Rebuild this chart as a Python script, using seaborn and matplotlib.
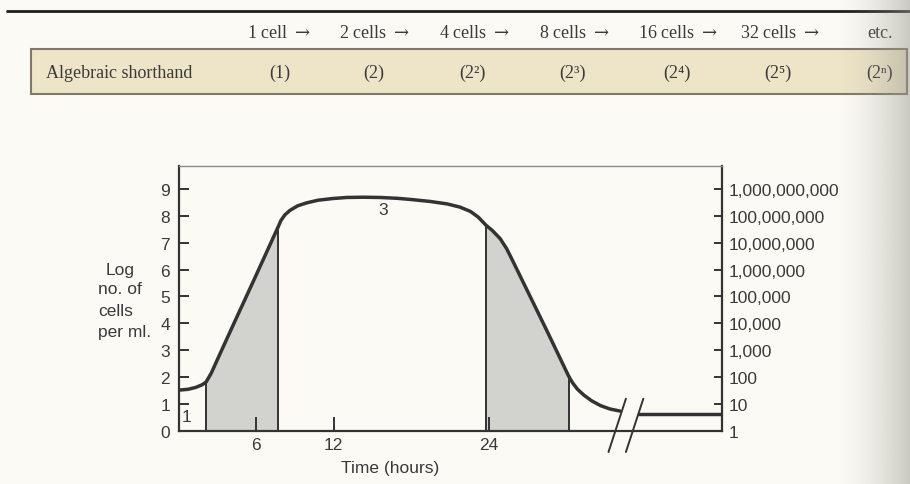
import numpy as np
import matplotlib
matplotlib.use("Agg")
import matplotlib.pyplot as plt
from matplotlib.lines import Line2D
from matplotlib.patches import Rectangle
import seaborn as sns

# ---- data -------------------------------------------------------------
# Growth of a bacterial culture: log10 of cells per ml against time (hours)
hours = [0.0, 0.7, 1.3, 1.8, 2.1, 2.5, 3.0, 4.2, 5.7, 7.7, 7.9, 8.2, 8.6,
         9.2, 9.9, 10.8, 11.9, 13.0, 14.3, 15.6, 16.9, 18.1, 19.5, 20.8,
         21.8, 22.6, 23.2, 23.8, 24.3, 24.9, 25.4, 25.9, 28.5, 30.2, 30.5,
         30.9, 31.4, 32.0, 32.7, 33.4, 34.2]
log_cells = [1.52, 1.55, 1.62, 1.72, 1.82, 2.15, 2.68, 3.94, 5.5, 7.6, 7.82,
             8.03, 8.2, 8.37, 8.48, 8.58, 8.64, 8.68, 8.69, 8.68, 8.65, 8.6,
             8.53, 8.44, 8.32, 8.16, 7.95, 7.65, 7.45, 7.15, 6.78, 6.3, 3.75,
             2.05, 1.8, 1.55, 1.33, 1.12, 0.94, 0.82, 0.74]
# after the break in the time axis
late_hours = [35.7, 42.1]
late_log_cells = [0.63, 0.63]

# shaded phases (start, end) in hours
shaded_phases = [(2.1, 7.7), (23.8, 30.2)]

x_ticks = [6, 12, 24]
y_ticks = [0, 1, 2, 3, 4, 5, 6, 7, 8, 9]
count_labels = ["1", "10", "100", "1,000", "10,000", "100,000", "1,000,000",
                "10,000,000", "100,000,000", "1,000,000,000"]

ARROW = r"$\rightarrow$"
header_cells = ["1 cell " + ARROW, "2 cells " + ARROW, "4 cells " + ARROW,
                "8 cells " + ARROW, "16 cells " + ARROW, "32 cells " + ARROW,
                "etc."]
shorthand = ["(1)", "(2)", "(2\u00b2)", "(2\u00b3)", "(2\u2074)", "(2\u2075)",
             "(2\u207f)"]

# ---- style ------------------------------------------------------------
sns.set_theme(style="ticks")
plt.rcParams["font.family"] = ["Liberation Sans", "DejaVu Sans"]
plt.rcParams["mathtext.fontset"] = "dejavuserif"
SERIF = ["Liberation Serif", "DejaVu Serif"]
BG = "#fbfaf5"
INK = "#333333"
TXT = "#3a3a3a"

W, H = 910, 485
fig = plt.figure(figsize=(W / 100, H / 100), dpi=100, facecolor=BG)


def fx(px):
    return px / W


def fy(py):
    return 1 - py / H


# ---- header table -----------------------------------------------------
fig.add_artist(Line2D([fx(7), 1.0], [fy(12), fy(12)], lw=2.0, color="#1e1e1e",
                      transform=fig.transFigure))
fig.add_artist(Rectangle((fx(31), fy(95)), fx(907) - fx(31), fy(50) - fy(95),
                         transform=fig.transFigure, facecolor="#eee5c8",
                         edgecolor="#7e796a", lw=1.5))
col_x = [279, 374, 474, 574, 678, 780, 880]
for cx, lab in zip(col_x, header_cells):
    fig.text(fx(cx), fy(33), lab, ha="center", va="center", fontsize=13,
             family=SERIF, color=TXT)
short_x = [280, 374, 472, 572, 677, 778, 880]
for cx, lab in zip(short_x, shorthand):
    fig.text(fx(cx), fy(73), lab, ha="center", va="center", fontsize=13,
             family=SERIF, color=TXT)
fig.text(fx(46), fy(73), "Algebraic shorthand", ha="left", va="center",
         fontsize=13, family=SERIF, color=TXT)

# ---- growth curve -----------------------------------------------------
ax = fig.add_axes([fx(179), fy(432), fx(722) - fx(179), fy(167) - fy(432)])
ax.patch.set_alpha(0)
ax.set_axisbelow(False)

h = np.array(hours)
lc = np.array(log_cells)
lookup = dict(zip(hours, log_cells))
for start, end in shaded_phases:
    mask = (h >= start) & (h <= end)
    ax.fill_between(h[mask], 0, lc[mask], color="#d2d2cf", lw=0, zorder=1)
    ax.vlines([start, end], 0, [lookup[start], lookup[end]], color=INK,
              lw=1.4, zorder=2)

sns.lineplot(x=hours, y=log_cells, ax=ax, color=INK, lw=2.5, sort=False,
             estimator=None, zorder=3)
sns.lineplot(x=late_hours, y=late_log_cells, ax=ax, color=INK, lw=2.5,
             sort=False, estimator=None, zorder=3)
for line in ax.lines:
    line.set_solid_joinstyle("round")
    line.set_solid_capstyle("round")

# break marks on the time axis
for x0 in (33.3, 34.65):
    ax.plot([x0, x0 + 1.35], [-0.78, 1.2], color=INK, lw=1.4, clip_on=False,
            zorder=4)

ax.set_xlim(0, 42.1)
ax.set_ylim(0, 9.85)
ax.set_xticks(x_ticks)
ax.set_yticks(y_ticks)
ax.tick_params(axis="x", direction="in", length=10, width=1.4, pad=4,
               labelsize=12.5, colors=INK, labelcolor=TXT)
ax.tick_params(axis="y", direction="in", length=7, width=1.4, pad=6.5,
               labelsize=12.5, colors=INK, labelcolor=TXT)
for side in ("left", "bottom", "right"):
    ax.spines[side].set_linewidth(1.6)
    ax.spines[side].set_color(INK)
ax.spines["top"].set_visible(True)
ax.spines["top"].set_linewidth(1.0)
ax.spines["top"].set_color("#8a8a8a")
ax.spines["right"].set_visible(True)

ax.set_xlabel("Time (hours)", fontsize=12.5, color=TXT)
ax.xaxis.set_label_coords((390 - 179) / 543, (432 - 468) / 265)
ax.xaxis.label.set_va("center")
ax.set_ylabel("")

ax2 = ax.twinx()
ax2.set_ylim(ax.get_ylim())
ax2.set_yticks(y_ticks)
ax2.set_yticklabels(count_labels)
ax2.tick_params(axis="y", direction="in", length=6, width=1.4, pad=5,
                labelsize=12.5, colors=INK, labelcolor=TXT)
for s in ax2.spines.values():
    s.set_visible(False)

# phase numbers
ax.text(0.6, 0.55, "1", fontsize=12.5, color=TXT, ha="center", va="center")
ax.text(15.8, 8.25, "3", fontsize=12.5, color=TXT, ha="center", va="center")

# axis title on the left
for text, px, py in (("Log", 106, 270), ("no. of", 98, 290),
                     ("cells", 98, 311), ("per ml.", 98, 332)):
    fig.text(fx(px), fy(py), text, ha="left", va="center", fontsize=12.5,
             color=TXT)

# shadow of the page fold along the right edge
gax = fig.add_axes([fx(835), 0, 1 - fx(835), 1], zorder=10)
ramp = np.linspace(0, 1, 256) ** 1.6
img = np.zeros((1, 256, 4))
img[..., 0] = 0.60
img[..., 1] = 0.60
img[..., 2] = 0.56
img[..., 3] = ramp * 0.5
gax.imshow(img, aspect="auto", extent=[0, 1, 0, 1])
gax.axis("off")

fig.savefig("out.png", dpi=100, facecolor=BG)
